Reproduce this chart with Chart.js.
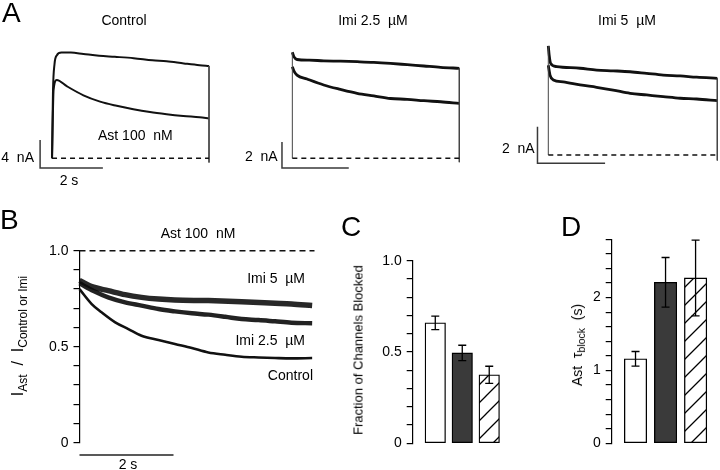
<!DOCTYPE html>
<html><head><meta charset="utf-8">
<script src="https://cdn.jsdelivr.net/npm/chart.js@4.4.0/dist/chart.umd.min.js"></script>
<style>
html,body{margin:0;padding:0;background:#fff;}
#wrap{position:relative;width:720px;height:470px;overflow:hidden;font-family:"Liberation Sans",Arial,sans-serif;color:#000;background:#fff;}
canvas{position:absolute;left:0;top:0;}
.t{position:absolute;white-space:nowrap;line-height:1;font-size:14px;}
.pl{font-size:28px;}
.c{transform:translateX(-50%);}
.rot{transform:translate(-50%,-50%) rotate(-90deg);}
.rot sub{font-size:0.75em;vertical-align:-0.3em;line-height:0;}
</style></head><body><div id="wrap">
<canvas id="cA1" width="720" height="470"></canvas>
<canvas id="cA2" width="720" height="470"></canvas>
<canvas id="cA3" width="720" height="470"></canvas>
<canvas id="cB" width="720" height="470"></canvas>
<canvas id="cC" width="720" height="470"></canvas>
<canvas id="cD" width="720" height="470"></canvas>

<div class="t pl" style="left:2px;top:-1px">A</div>
<div class="t pl" style="left:0px;top:206px">B</div>
<div class="t pl" style="left:341px;top:213px">C</div>
<div class="t pl" style="left:561px;top:213px">D</div>

<div class="t c" style="left:124px;top:13px">Control</div>
<div class="t c" style="left:373px;top:13px">Imi 2.5&nbsp; µM</div>
<div class="t c" style="left:627px;top:13px">Imi 5&nbsp; µM</div>
<div class="t" style="left:98px;top:128px">Ast 100&nbsp; nM</div>
<div class="t" style="right:686px;top:150px">4&nbsp; nA</div>
<div class="t c" style="left:69px;top:173px">2 s</div>
<div class="t" style="left:245px;top:149px">2&nbsp; nA</div>
<div class="t" style="left:502px;top:141px">2&nbsp; nA</div>

<div class="t c" style="left:198px;top:226px">Ast 100&nbsp; nM</div>
<div class="t" style="right:415px;top:271px">Imi 5&nbsp; µM</div>
<div class="t" style="right:415px;top:333px">Imi 2.5&nbsp; µM</div>
<div class="t" style="right:407px;top:368px">Control</div>
<div class="t c" style="left:128px;top:457px">2 s</div>

<div class="t rot" style="left:18px;top:336px;font-size:16px">I<sub>Ast</sub>&nbsp; /&nbsp; I<sub>Control or Imi</sub></div>
<div class="t rot" style="left:358px;top:350px;font-size:13px">Fraction of Channels Blocked</div>
<div class="t rot" style="left:577px;top:345px;font-size:14px">Ast&nbsp; τ<sub>block</sub>&nbsp; (s)</div>
</div>
<script>
// ---------- DATA ----------
// Panel A, Control cell (time s, current nA)
const a1CtrlT = [0, 0.03, 0.08, 0.15, 0.3, 0.6, 1.0, 1.5, 2.0, 2.6, 3.2, 3.65, 4.2, 4.7, 5.0];
const a1CtrlI = [0, 9.5, 13.5, 14.7, 15.1, 15.1, 14.9, 14.65, 14.5, 14.3, 14.0, 13.85, 13.55, 13.3, 13.2];
const a1AstT  = [0, 0.05, 0.15, 0.47, 1.0, 1.53, 2.06, 2.59, 3.12, 3.65, 4.18, 4.7, 5.0];
const a1AstI  = [0, 9.8, 11.2, 10.3, 9.0, 8.1, 7.5, 7.0, 6.6, 6.3, 6.05, 5.85, 5.7];
// Panel A, Imi 2.5 uM
const a2UpT = [0, 0.05, 0.14, 0.5, 0.94, 1.44, 1.94, 2.44, 2.94, 3.44, 3.94, 4.44, 5.0];
const a2UpI = [8.15, 7.8, 7.6, 7.55, 7.5, 7.47, 7.43, 7.38, 7.3, 7.2, 7.1, 7.0, 6.92];
const a2LoT = [0, 0.05, 0.14, 0.44, 0.94, 1.44, 1.94, 2.44, 2.94, 3.44, 3.94, 4.44, 5.0];
const a2LoI = [7.05, 6.7, 6.4, 6.1, 5.64, 5.3, 5.0, 4.8, 4.6, 4.54, 4.43, 4.35, 4.23];
// Panel A, Imi 5 uM
const a3UpT = [0, 0.03, 0.07, 0.25, 0.94, 1.43, 1.92, 2.42, 2.91, 3.4, 3.9, 4.39, 5.0];
const a3UpI = [5.96, 5.4, 5.0, 4.83, 4.74, 4.64, 4.6, 4.55, 4.46, 4.37, 4.32, 4.25, 4.19];
const a3LoT = [0, 0.05, 0.15, 0.44, 0.94, 1.43, 1.92, 2.42, 2.91, 3.4, 3.9, 4.39, 5.0];
const a3LoI = [4.9, 4.37, 4.1, 4.0, 3.83, 3.7, 3.55, 3.37, 3.28, 3.19, 3.1, 3.06, 2.97];
const pulseEnd = 5.0;          // s
const scaleBarA = [4, 2, 2];   // nA per panel
const scaleBarT = 2;           // s
// Panel B, I_Ast / I_Control or Imi
const bCtrlT = [0, 0.26, 0.47, 0.76, 1.04, 1.32, 1.68, 2.03, 2.39, 2.74, 3.1, 3.45, 3.81, 4.16, 4.51, 4.95];
const bCtrlV = [0.80, 0.722, 0.679, 0.627, 0.592, 0.557, 0.535, 0.514, 0.493, 0.47, 0.458, 0.448, 0.444, 0.441, 0.439, 0.441];
const bI25T  = [0, 0.3, 0.61, 0.97, 1.32, 1.68, 2.03, 2.39, 2.74, 3.1, 3.45, 3.81, 4.16, 4.51, 4.95];
const bI25V  = [0.83, 0.79, 0.757, 0.731, 0.714, 0.696, 0.684, 0.674, 0.667, 0.656, 0.644, 0.639, 0.632, 0.625, 0.622];
const bI5T   = [0, 0.3, 0.61, 0.97, 1.32, 1.68, 2.03, 2.74, 3.45, 4.16, 4.51, 4.95];
const bI5V   = [0.845, 0.81, 0.792, 0.771, 0.757, 0.748, 0.743, 0.74, 0.734, 0.726, 0.722, 0.714];
// Panels C and D (Control, Imi 2.5, Imi 5)
const groups = ['Control', 'Imi 2.5 µM', 'Imi 5 µM'];
const cFrac = [0.66, 0.495, 0.375];
const cErr  = [0.037, 0.042, 0.047];
const dTau  = [1.16, 2.21, 2.27];
const dErr  = [0.10, 0.34, 0.52];

// ---------- SETUP ----------
Chart.defaults.font.family = '"Liberation Sans", Arial, sans-serif';
Chart.defaults.color = '#000';
Chart.defaults.animation = false;
Chart.defaults.responsive = false;
Chart.defaults.devicePixelRatio = 1;
Chart.defaults.events = [];
Chart.defaults.plugins.legend.display = false;
Chart.defaults.plugins.tooltip.enabled = false;

const W = 720, H = 470;
const pad = (l, t, r, b) => ({left: l, top: t, right: W - r, bottom: H - b});
const xy = (t, v) => t.map((x, i) => ({x, y: v[i]}));

function trace(t, v, w, color) {
  return {data: xy(t, v), borderColor: color || '#111', borderWidth: w, pointRadius: 0,
          fill: false, cubicInterpolationMode: 'monotone', clip: false, borderJoinStyle: 'round'};
}
function seg(pts, w, color, dash) {
  return {data: pts, borderColor: color, borderWidth: w, pointRadius: 0, fill: false,
          tension: 0, clip: false, borderDash: dash || []};
}
function scaleBar(t0, y0, dy, dx) {
  return seg([{x: t0, y: y0 + dy}, {x: t0, y: y0}, {x: t0 + dx, y: y0}], 1.5, '#3a3a3a');
}

function panelA(id, rect, xr, yr, up, lo, bar, w) {
  const [upT, upI] = up, [loT, loI] = lo;
  new Chart(document.getElementById(id), {
    type: 'line',
    data: {datasets: [
      seg([{x: 0, y: 0}, {x: pulseEnd, y: 0}], 1.4, '#111', [5, 4]),
      seg([{x: 0, y: 0}, {x: 0, y: upI[0]}], 1, '#444'),
      seg([{x: pulseEnd, y: upI[upI.length - 1]}, {x: pulseEnd, y: -0.15 * bar[2]}], 1, '#444'),
      trace(upT, upI, w),
      trace(loT, loI, w),
      scaleBar(bar[0], bar[1], bar[2], scaleBarT)
    ]},
    options: {
      layout: {padding: pad(...rect), autoPadding: false},
      scales: {
        x: {type: 'linear', display: false, min: xr[0], max: xr[1]},
        y: {type: 'linear', display: false, min: yr[0], max: yr[1]}
      }
    }
  });
}

panelA('cA1', [1.8, 39.3, 224.7, 179.3], [-1.6, 5.5], [-3, 17],
       [a1CtrlT, a1CtrlI], [a1AstT, a1AstI], [-0.38, -1.39, scaleBarA[0]], 2);
panelA('cA2', [238.9, 28.3, 476, 197.3], [-1.6, 5.5], [-3, 10],
       [a2UpT, a2UpI], [a2LoT, a2LoI], [-0.31, -0.75, scaleBarA[1]], 2.8);
panelA('cA3', [497.6, 26.9, 720, 191.6], [-1.5, 5.08], [-2, 7],
       [a3UpT, a3UpI], [a3LoT, a3LoI], [-0.32, -0.45, scaleBarA[2]], 2.8);

function yAxis(width, min, max, step, fmt) {
  return {
    type: 'linear', min, max,
    afterFit(s) { s.width = width; },
    ticks: {stepSize: step, autoSkip: false, padding: 5, color: '#000', font: {size: 14}, callback: fmt},
    grid: {drawOnChartArea: false, drawTicks: true, tickLength: 6, color: '#000', lineWidth: 1.2},
    border: {display: true, color: '#000', width: 1.2}
  };
}
const halfFmt = v => (Math.abs(v * 2 - Math.round(v * 2)) < 1e-6) ? (Math.abs(v) < 1e-9 ? '0' : v.toFixed(1)) : '';
const intFmt = v => (Math.abs(v - Math.round(v)) < 1e-6) ? String(Math.round(v)) : '';

// Panel B
new Chart(document.getElementById('cB'), {
  type: 'line',
  data: {datasets: [
    seg([{x: 0, y: 1}, {x: pulseEnd, y: 1}], 1.4, '#111', [6, 4]),
    trace(bI5T, bI5V, 5.5, 'rgba(10,10,10,0.88)'),
    trace(bI25T, bI25V, 4.5, 'rgba(10,10,10,0.9)'),
    trace(bCtrlT, bCtrlV, 2.6, '#111'),
    seg([{x: 0, y: -0.064}, {x: scaleBarT, y: -0.064}], 1.5, '#222')
  ]},
  options: {
    layout: {padding: {left: 0, top: 250.7, right: W - 314.5, bottom: H - 442.7}, autoPadding: false},
    scales: {
      x: {type: 'linear', display: false, min: 0, max: pulseEnd},
      y: yAxis(79.5, 0, 1, 0.1, halfFmt)
    }
  }
});

// hatch pattern
function hatch() {
  const s = 18, c = document.createElement('canvas');
  c.width = s; c.height = s;
  const g = c.getContext('2d');
  g.fillStyle = '#fff'; g.fillRect(0, 0, s, s);
  g.strokeStyle = '#000'; g.lineWidth = 1.3;
  g.beginPath();
  g.moveTo(-1, s + 1); g.lineTo(s + 1, -1);
  g.moveTo(-1, 1); g.lineTo(1, -1);
  g.moveTo(s - 1, s + 1); g.lineTo(s + 1, s - 1);
  g.stroke();
  return g.createPattern(c, 'repeat');
}
const hatchFill = hatch();

function errPlugin(vals, errs) {
  return {
    id: 'err',
    afterDatasetsDraw(chart) {
      const {ctx, scales: {x, y}} = chart;
      ctx.save();
      ctx.strokeStyle = '#000'; ctx.lineWidth = 1.3;
      vals.forEach((v, i) => {
        const px = x.getPixelForValue(i + 1);
        const hi = y.getPixelForValue(v + errs[i]);
        const lo = y.getPixelForValue(v - errs[i]);
        ctx.beginPath();
        ctx.moveTo(px, hi); ctx.lineTo(px, lo);
        ctx.moveTo(px - 4, hi); ctx.lineTo(px + 4, hi);
        ctx.moveTo(px - 4, lo); ctx.lineTo(px + 4, lo);
        ctx.stroke();
      });
      ctx.restore();
    }
  };
}

function barChart(id, vals, errs, axisX, top, bottom, right, xr, thick, ymax, step, fmt) {
  new Chart(document.getElementById(id), {
    type: 'bar',
    data: {datasets: [{
      label: groups.join(','),
      data: vals.map((v, i) => ({x: i + 1, y: v})),
      backgroundColor: ['#ffffff', '#3a3a3a', hatchFill],
      borderColor: '#000', borderWidth: 1.3, borderSkipped: false,
      barThickness: thick
    }]},
    options: {
      layout: {padding: {left: 0, top, right: W - right, bottom: H - bottom}, autoPadding: false},
      scales: {
        x: {type: 'linear', display: false, offset: false, grid: {offset: false}, min: xr[0], max: xr[1]},
        y: yAxis(axisX, 0, ymax, step, fmt)
      }
    },
    plugins: [errPlugin(vals, errs)]
  });
}

barChart('cC', cFrac, cErr, 412.7, 260.7, 443.3, 510, [0.163, 3.77], 20.5, 1, 0.1, halfFmt);
barChart('cD', dTau, dErr, 611.7, 239.3, 443.3, 716, [0.207, 3.68], 22.4, 2.8, 0.2, intFmt);
</script>
</body></html>
